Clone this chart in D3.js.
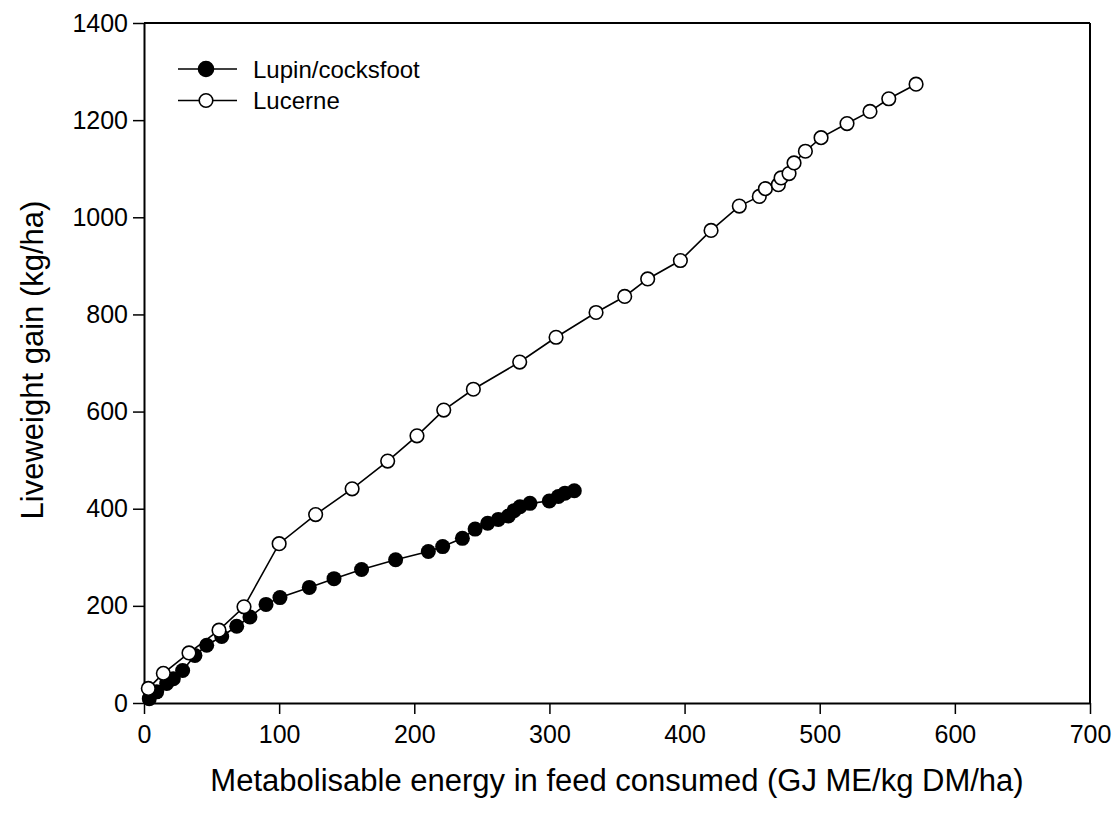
<!DOCTYPE html>
<html>
<head>
<meta charset="utf-8">
<script src="https://cdn.jsdelivr.net/npm/d3@7"></script>
<style>
  body { margin: 0; background: #fff; }
  text { font-family: "Liberation Sans", Arial, sans-serif; }
</style>
</head>
<body>
<div id="chart"></div>
<script>
// Lupin/cocksfoot series
const lupinX = [3.9, 9.4, 16.8, 21.7, 28.6, 37.7, 46.4, 57.5, 68.6, 78.4, 90.3, 100.6, 122.3, 140.6, 161, 186.2, 210.4, 221, 235.6, 245, 254.3, 262.2, 269.6, 273.8, 278.2, 285.6, 299.9, 306.6, 311.5, 318.4];
const lupinY = [9, 23, 40, 50, 67, 98, 119, 137, 158, 177, 203, 217, 238, 256, 275, 295, 312, 322, 339, 358, 370, 378, 385, 396, 404, 411, 416, 425, 432, 437];

// Lucerne series
const lucerneX = [3.2, 14.3, 33.3, 55.5, 74, 100, 127, 154, 180.3, 202, 221.8, 243.7, 278, 304.9, 334.5, 355.7, 372.7, 396.9, 419.6, 440.5, 455.3, 459.8, 469.4, 471.4, 477.3, 481, 489.4, 501, 520.2, 537.2, 551.1, 571.3];
const lucerneY = [30, 61, 103, 150, 198, 328, 388, 441, 498, 550, 603, 646, 702, 753, 804, 837, 873, 911, 973, 1023, 1043, 1059, 1067, 1081, 1090, 1112, 1136, 1164, 1193, 1218, 1244, 1274];

const xTicks = [0, 100, 200, 300, 400, 500, 600, 700];
const yTicks = [0, 200, 400, 600, 800, 1000, 1200, 1400];
const seriesNames = ['Lupin/cocksfoot', 'Lucerne'];

const W = 1117, H = 819;
const margin = { top: 23, right: 27, bottom: 116, left: 144 };
const width = W - margin.left - margin.right;
const height = H - margin.top - margin.bottom;

const svg = d3.select('#chart')
  .append('svg')
  .attr('width', W)
  .attr('height', H);

const g = svg.append('g')
  .attr('transform', 'translate(' + margin.left + ',' + margin.top + ')');

const xScale = d3.scaleLinear().domain([0, 700]).range([0, width]);
const yScale = d3.scaleLinear().domain([0, 1400]).range([height, 0]);

// frame top and right
g.append('line').attr('x1', 0).attr('x2', width).attr('y1', 0).attr('y2', 0)
  .attr('stroke', '#000').attr('stroke-width', 2);
g.append('line').attr('x1', width).attr('x2', width).attr('y1', 0).attr('y2', height)
  .attr('stroke', '#000').attr('stroke-width', 2);

// x axis
const xAxis = g.append('g')
  .attr('transform', 'translate(0,' + height + ')')
  .call(d3.axisBottom(xScale).tickValues(xTicks).tickFormat(d3.format('d'))
    .tickSize(11).tickPadding(11).tickSizeOuter(0));

// y axis
const yAxis = g.append('g')
  .call(d3.axisLeft(yScale).tickValues(yTicks).tickFormat(d3.format('d'))
    .tickSize(11).tickPadding(5).tickSizeOuter(0));

[xAxis, yAxis].forEach(a => {
  a.select('.domain').attr('stroke', '#000').attr('stroke-width', 2);
  a.selectAll('.tick line').attr('stroke', '#000').attr('stroke-width', 1.5);
  a.selectAll('text').attr('font-size', 25).attr('fill', '#000')
    .style('font-family', '"Liberation Sans", Arial, sans-serif');
});

// axis titles
svg.append('text')
  .attr('x', margin.left + width / 2)
  .attr('y', 791)
  .attr('text-anchor', 'middle')
  .attr('font-size', 31)
  .text('Metabolisable energy in feed consumed (GJ ME/kg DM/ha)');

svg.append('text')
  .attr('transform', 'rotate(-90)')
  .attr('x', -360)
  .attr('y', 43)
  .attr('text-anchor', 'middle')
  .attr('font-size', 31)
  .text('Liveweight gain (kg/ha)');

const line = d3.line()
  .x(d => xScale(d[0]))
  .y(d => yScale(d[1]));

const lupin = lupinX.map((x, i) => [x, lupinY[i]]);
const lucerne = lucerneX.map((x, i) => [x, lucerneY[i]]);

// Lupin
g.append('path').datum(lupin).attr('d', line)
  .attr('fill', 'none').attr('stroke', '#000').attr('stroke-width', 1.6);
g.selectAll('.lupin')
  .data(lupin)
  .enter()
  .append('circle')
  .attr('class', 'lupin')
  .attr('cx', d => xScale(d[0]))
  .attr('cy', d => yScale(d[1]))
  .attr('r', 7.5)
  .attr('fill', '#000');

// Lucerne
g.append('path').datum(lucerne).attr('d', line)
  .attr('fill', 'none').attr('stroke', '#000').attr('stroke-width', 1.6);
g.selectAll('.lucerne')
  .data(lucerne)
  .enter()
  .append('circle')
  .attr('class', 'lucerne')
  .attr('cx', d => xScale(d[0]))
  .attr('cy', d => yScale(d[1]))
  .attr('r', 6.8)
  .attr('fill', '#fff')
  .attr('stroke', '#000')
  .attr('stroke-width', 1.6);

// legend
const legend = svg.append('g');
seriesNames.forEach((name, i) => {
  const y = 69 + i * 31.5;
  legend.append('line').attr('x1', 178).attr('x2', 237).attr('y1', y).attr('y2', y)
    .attr('stroke', '#000').attr('stroke-width', 1.6);
  legend.append('circle').attr('cx', 206).attr('cy', y)
    .attr('r', i === 0 ? 7.5 : 6.8)
    .attr('fill', i === 0 ? '#000' : '#fff')
    .attr('stroke', '#000').attr('stroke-width', 1.6);
  legend.append('text').attr('x', 253).attr('y', y + 8.5)
    .attr('font-size', 24).text(name);
});
</script>
</body>
</html>
